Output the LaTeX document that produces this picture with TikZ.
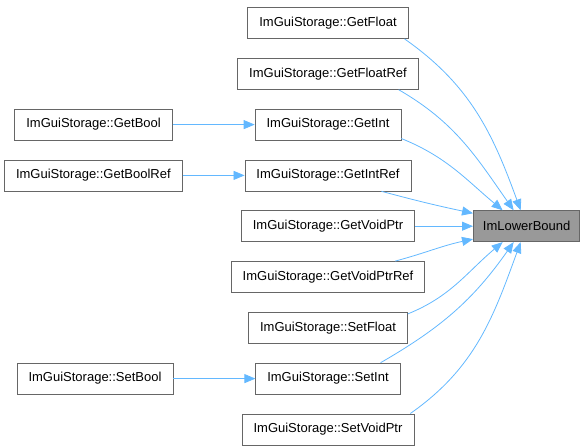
\documentclass[tikz,border=0pt]{standalone}
\usepackage{fontspec}
\setmainfont{Liberation Sans}
\usepackage{tikz}
\usetikzlibrary{arrows.meta,positioning}
\definecolor{nodeFrame}{HTML}{666666}
\definecolor{focusBack}{HTML}{999999}
\definecolor{edgeBlue}{HTML}{63B8FF}

\begin{document}
\begin{tikzpicture}[node distance=19pt,>={Triangle[length=11pt,width=9pt]},line width=0.8pt]
  \tikzstyle{funcNode}=[draw=nodeFrame,fill=white,minimum height=31pt,inner xsep=11.5pt,inner ysep=0pt,font=\fontsize{13}{15}\selectfont]
  \tikzstyle{callEdge}=[draw=edgeBlue,->]
  % middle column
  \node[funcNode] (getfloat) {ImGuiStorage::GetFloat};
  \node[funcNode,below=of getfloat] (getfloatref) {ImGuiStorage::GetFloatRef};
  \node[funcNode,below=of getfloatref] (getint) {ImGuiStorage::GetInt};
  \node[funcNode,below=of getint] (getintref) {ImGuiStorage::GetIntRef};
  \node[funcNode,below=of getintref] (getvoidptr) {ImGuiStorage::GetVoidPtr};
  \node[funcNode,below=of getvoidptr] (getvoidptrref) {ImGuiStorage::GetVoidPtrRef};
  \node[funcNode,below=of getvoidptrref] (setfloat) {ImGuiStorage::SetFloat};
  \node[funcNode,below=of setfloat] (setint) {ImGuiStorage::SetInt};
  \node[funcNode,below=of setint] (setvoidptr) {ImGuiStorage::SetVoidPtr};
  % left column
  \node[funcNode,left=82pt of getint] (getbool) {ImGuiStorage::GetBool};
  \node[funcNode,left=62pt of getintref] (getboolref) {ImGuiStorage::GetBoolRef};
  \node[funcNode,left=82pt of setint] (setbool) {ImGuiStorage::SetBool};
  % callee
  \node[funcNode,fill=focusBack,inner xsep=9.5pt,right=58pt of getvoidptr] (lower) {ImLowerBound};
  \useasboundingbox (-328pt,23pt) rectangle (259pt,-420pt);

  \draw[callEdge] (getbool) -- (getint);
  \draw[callEdge] (getboolref) -- (getintref);
  \draw[callEdge] (setbool) -- (setint);

  \draw[callEdge] ([xshift=-4pt]getfloat.south east) to[out=-35,in=110] ([xshift=-6pt]lower.north);
  \draw[callEdge] ([xshift=-20pt]getfloatref.south east) to[out=-30,in=125] ([xshift=-13pt]lower.north);
  \draw[callEdge] ([yshift=2pt]getint.south east) to[out=-22,in=140] ([xshift=-24pt]lower.north);
  \draw[callEdge] ([xshift=-30pt]getintref.south east) to[out=-15,in=168] ([yshift=-3pt]lower.north west);
  \draw[callEdge] (getvoidptr) -- (lower);
  \draw[callEdge] ([xshift=-30pt]getvoidptrref.north east) to[out=15,in=-168] ([yshift=3pt]lower.south west);
  \draw[callEdge] ([yshift=-2pt]setfloat.north east) to[out=22,in=-140] ([xshift=-24pt]lower.south);
  \draw[callEdge] ([xshift=-20pt]setint.north east) to[out=30,in=-125] ([xshift=-13pt]lower.south);
  \draw[callEdge] ([xshift=-4pt]setvoidptr.north east) to[out=35,in=-110] ([xshift=-6pt]lower.south);
\end{tikzpicture}
\end{document}
